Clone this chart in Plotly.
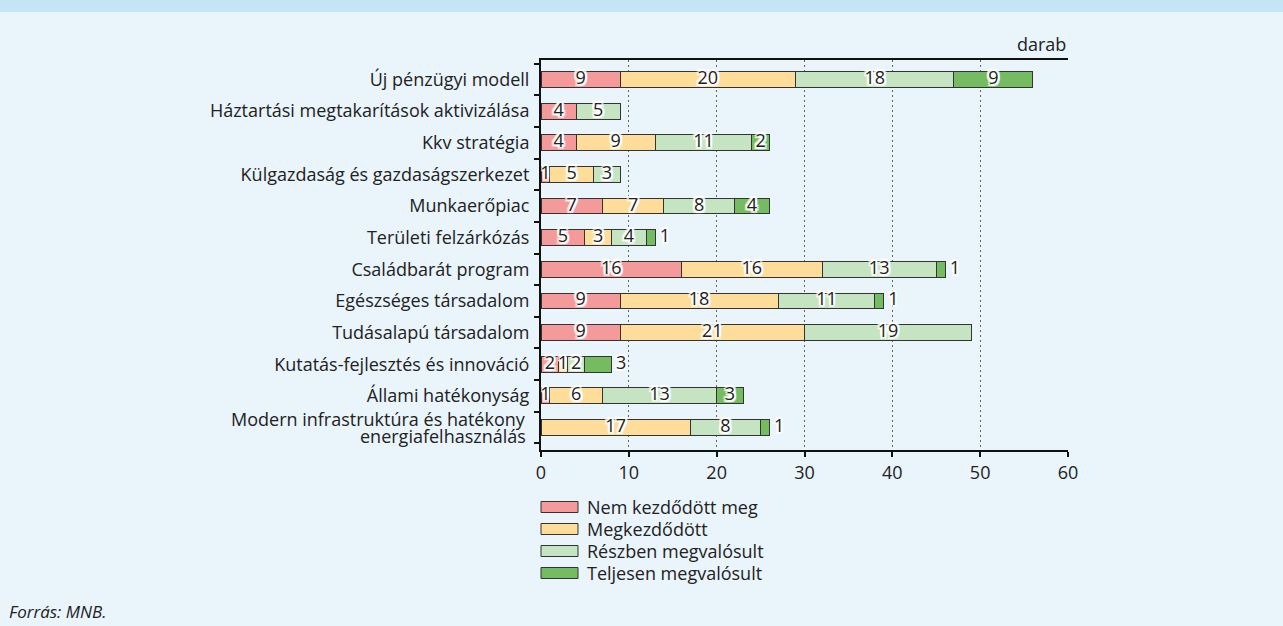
import plotly.graph_objects as go

categories = [
    "Új pénzügyi modell",
    "Háztartási megtakarítások aktivizálása",
    "Kkv stratégia",
    "Külgazdaság és gazdaságszerkezet",
    "Munkaerőpiac",
    "Területi felzárkózás",
    "Családbarát program",
    "Egészséges társadalom",
    "Tudásalapú társadalom",
    "Kutatás-fejlesztés és innováció",
    "Állami hatékonyság",
    "Modern infrastruktúra és hatékony<br>energiafelhasználás",
]
nem_kezdodott = [9, 4, 4, 1, 7, 5, 16, 9, 9, 2, 1, 0]
megkezdodott = [20, 0, 9, 5, 7, 3, 16, 18, 21, 1, 6, 17]
reszben = [18, 5, 11, 3, 8, 4, 13, 11, 19, 2, 13, 8]
teljesen = [9, 0, 2, 0, 4, 1, 1, 1, 0, 3, 3, 1]
series_names = ["Nem kezdődött meg", "Megkezdődött", "Részben megvalósult", "Teljesen megvalósult"]
series_values = [nem_kezdodott, megkezdodott, reszben, teljesen]
colors = ["#f59a9b", "#fedd9b", "#c5e4c1", "#74bb62"]
# rows whose last-segment label sits outside the bar
outside_label_rows = ["Területi felzárkózás", "Családbarát program", "Egészséges társadalom",
                      "Kutatás-fejlesztés és innováció",
                      "Modern infrastruktúra és hatékony<br>energiafelhasználás"]
x_ticks = [0, 10, 20, 30, 40, 50, 60]

FONT = "Open Sans"
TXT = "#222222"
BG = "#e9f4fb"
FS = 18
halo = ("2px 2px 1px #fff, -2px -2px 1px #fff, 2px -2px 1px #fff, -2px 2px 1px #fff, "
        "0px 2px 1px #fff, 0px -2px 1px #fff, 2px 0px 1px #fff, -2px 0px 1px #fff")

fig = go.Figure()
for name, vals, col in zip(series_names, series_values, colors):
    fig.add_trace(go.Bar(
        y=categories, x=vals, name=name, orientation="h",
        marker=dict(color=col, line=dict(color="#333333", width=1)),
        showlegend=False, hoverinfo="x+name",
    ))

# segment labels
ins_x, ins_y, ins_t = [], [], []
out_x, out_y, out_t = [], [], []
for i, cat in enumerate(categories):
    start = 0
    for s, vals in enumerate(series_values):
        v = vals[i]
        if v > 0:
            if s == 3 and cat in outside_label_rows:
                out_x.append(start + v); out_y.append(cat); out_t.append(str(v))
            else:
                ins_x.append(start + v / 2); ins_y.append(cat); ins_t.append(str(v))
        start += v

fig.add_trace(go.Scatter(x=ins_x, y=ins_y, text=ins_t, mode="text", textposition="middle center",
                         textfont=dict(family=FONT, size=FS, color=TXT, shadow=halo),
                         showlegend=False, hoverinfo="skip"))
fig.add_trace(go.Scatter(x=out_x, y=out_y, text=[" " + t for t in out_t], mode="text",
                         textposition="middle right",
                         textfont=dict(family=FONT, size=FS, color=TXT, shadow=halo),
                         showlegend=False, hoverinfo="skip"))

shapes = []
annotations = []

# category labels: multi-line ones drawn line by line with tighter spacing
ticktext = []
for cat in categories:
    lines = cat.split("<br>")
    if len(lines) == 1:
        ticktext.append(cat)
    else:
        ticktext.append("")
        n = len(lines)
        for j, line in enumerate(lines):
            annotations.append(dict(xref="paper", yref="y", x=0, y=cat, xanchor="right",
                                    yanchor="middle", xshift=-13,
                                    yshift=(n - 1) * 8.5 - j * 17, text=line,
                                    showarrow=False,
                                    font=dict(family=FONT, size=FS, color=TXT)))

# custom legend
leg_y = [507, 529, 551, 573]
for k, (name, col) in enumerate(zip(series_names, colors)):
    yc = leg_y[k]
    shapes.append(dict(type="rect", xref="paper", yref="paper",
                       x0=(541 - 541) / 527, x1=(578 - 541) / 527,
                       y0=(450 - (yc - 5.5)) / 390, y1=(450 - (yc + 5.5)) / 390,
                       fillcolor=col, line=dict(color="#333333", width=1)))
    annotations.append(dict(xref="paper", yref="paper", x=(585 - 541) / 527,
                            y=(450 - yc) / 390, text=name, showarrow=False,
                            xanchor="left", yanchor="middle",
                            font=dict(family=FONT, size=FS, color=TXT)))

# top band
shapes.append(dict(type="rect", xref="paper", yref="paper",
                   x0=-541 / 527, x1=(1283 - 541) / 527,
                   y0=(450 - 0) / 390, y1=(450 - 12) / 390,
                   fillcolor="#c3e5f5", line=dict(width=0), layer="below"))

annotations.append(dict(xref="paper", yref="paper", x=1.0, y=(450 - 44) / 390, text="darab",
                        showarrow=False, xanchor="right", yanchor="middle",
                        font=dict(family=FONT, size=FS, color=TXT)))
annotations.append(dict(xref="paper", yref="paper", x=-534 / 527, y=(450 - 611) / 390,
                        text="<i>Forrás: MNB.</i>", showarrow=False, xanchor="left",
                        yanchor="middle", font=dict(family=FONT, size=17, color=TXT)))

fig.update_layout(
    barmode="stack", bargap=0.5,
    width=1283, height=626,
    margin=dict(l=541, r=215, t=60, b=176, autoexpand=False),
    paper_bgcolor=BG, plot_bgcolor=BG,
    font=dict(family=FONT, size=FS, color=TXT),
    shapes=shapes, annotations=annotations,
    xaxis=dict(range=[0, 60], tickvals=x_ticks, ticktext=[str(t) for t in x_ticks],
               showline=True, linecolor="#111111", linewidth=2, mirror=True,
               ticks="outside", ticklen=5, tickwidth=2, tickcolor="#111111",
               showgrid=True, gridcolor="#666666", gridwidth=1, griddash="2px,3px",
               zeroline=False, tickfont=dict(family=FONT, size=FS, color=TXT)),
    yaxis=dict(autorange="reversed", showline=True, linecolor="#111111", linewidth=2,
               tickmode="array", tickvals=categories, ticktext=ticktext,
               ticks="outside", ticklen=5, tickwidth=2, tickcolor="#111111",
               tickson="boundaries", showgrid=False, ticklabelstandoff=6,
               tickfont=dict(family=FONT, size=FS, color=TXT)),
)

fig.write_html("out.html", config={"displayModeBar": False},
               post_script="document.body.style.margin='0';document.body.style.background='%s';" % BG)
